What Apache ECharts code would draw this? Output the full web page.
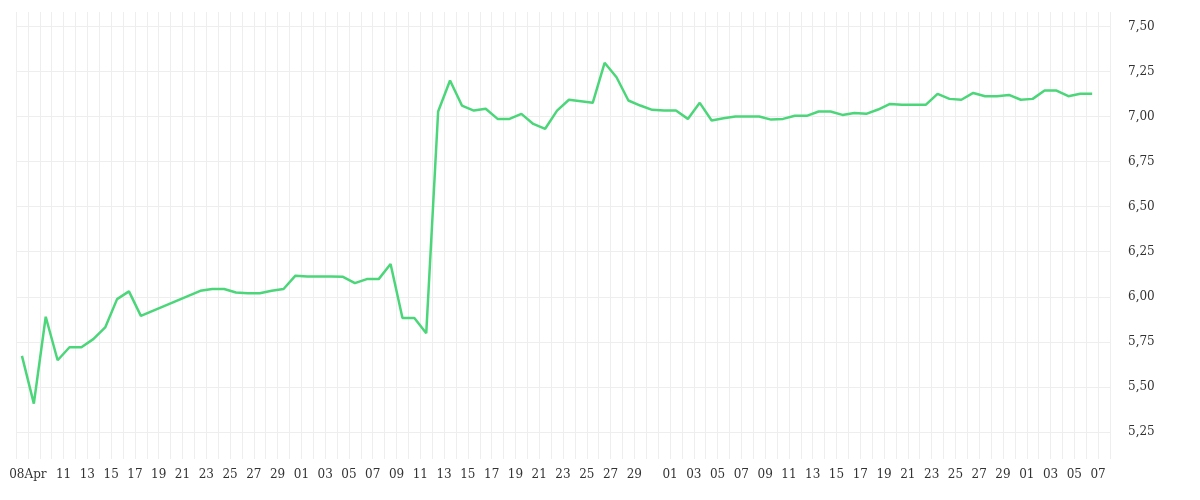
<!DOCTYPE html>
<html><head><meta charset="utf-8">
<script src="https://cdn.jsdelivr.net/npm/echarts@6/dist/echarts.min.js"></script>
<style>html,body{margin:0;padding:0;background:#fff}#c{width:1200px;height:500px}</style>
</head><body><div id="c"></div>
<script>
// day offsets from 08 Apr (0 = 08 Apr)
const days = [0,1,2,3,4,5,6,7,8,9,10,15,16,17,18,19,20,21,22,23,24,25,26,27,28,29,30,31,32,33,34,
  35,36,37,38,39,40,41,42,43,44,45,46,48,49,50,51,52,53,54,55,56,57,58,59,60,61,62,63,
  64,65,66,67,68,69,70,71,72,73,74,76,77,78,79,80,81,82,83,84,85,86,87,88,89,90];
const values = [5.672,5.407,5.889,5.648,5.72,5.72,5.765,5.83,5.987,6.03,5.894,6.033,6.043,6.043,6.024,6.02,6.02,6.033,6.043,6.117,6.113,6.113,6.112,6.111,6.076,6.098,6.098,6.182,5.882,5.882,5.798,
  7.028,7.2,7.061,7.033,7.043,6.987,6.987,7.015,6.959,6.932,7.033,7.093,7.076,7.298,7.218,7.089,7.061,7.037,7.033,7.033,6.987,7.076,6.978,6.991,7.0,7.0,7.0,6.983,
  6.987,7.004,7.004,7.028,7.028,7.009,7.02,7.015,7.039,7.07,7.065,7.065,7.126,7.098,7.093,7.131,7.113,7.113,7.12,7.093,7.098,7.144,7.144,7.113,7.126,7.126];
const startDate = Date.UTC(2024,3,8);
const yTicks = [5.25,5.5,5.75,6.0,6.25,6.5,6.75,7.0,7.25,7.5];

const data = days.map((d,i)=>[d-0.5, values[i]]);
const font = 'DejaVu Serif';
const chart = echarts.init(document.getElementById('c'));
chart.setOption({
  animation:false,
  grid:{left:16,right:90,top:12,bottom:41},
  xAxis:{type:'value',min:-1,max:91,interval:1,
    axisLine:{show:false},axisTick:{show:false},
    splitLine:{show:true,lineStyle:{color:'#eeeeee',width:1}},
    axisLabel:{color:'#333',fontFamily:font,fontSize:12,margin:10,showMinLabel:false,showMaxLabel:false,
      formatter:v=>{
        if(v<0) return '';
        const dt=new Date(startDate+v*86400000);
        const d=dt.getUTCDate();
        if(v===0) return '08Apr';
        if(v===1) return '';
        if(d%2===1 && d!==31) return (d<10?'0':'')+d;
        return '';
      }}},
  yAxis:{type:'value',position:'right',min:5.1,max:7.58,
    axisLine:{show:false},axisTick:{show:false,customValues:yTicks},
    splitLine:{show:false},
    axisLabel:{color:'#333',fontFamily:font,fontSize:12,margin:18,customValues:yTicks,
      formatter:v=>v.toFixed(2).replace('.',',')}},
  series:[{type:'line',data:data,symbol:'none',lineStyle:{color:'#4cd67a',width:2.5},
    markLine:{silent:true,symbol:'none',animation:false,z:1,
      lineStyle:{color:'#eeeeee',width:1,type:'solid'},label:{show:false},
      data:yTicks.map(v=>({yAxis:v}))}}]
});
</script></body></html>
